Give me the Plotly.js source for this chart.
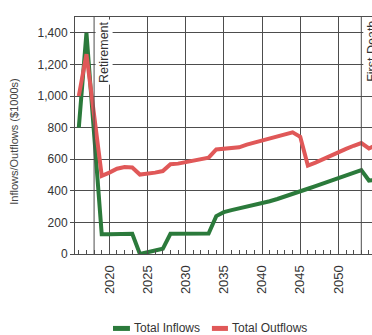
<!DOCTYPE html>
<html>
<head>
<meta charset="utf-8">
<script src="https://cdn.plot.ly/plotly-3.0.1.min.js"></script>
<style>
html,body{margin:0;padding:0;background:#fff;overflow:hidden;}
#chart{width:372px;height:335px;}
</style>
</head>
<body>
<div id="chart"></div>
<script>
// ---- data ----
const years = [2016,2017,2018,2019,2020,2021,2022,2023,2024,2025,2026,2027,2028,2029,2030,2031,2032,2033,2034,2035,2036,2037,2038,2039,2040,2041,2042,2043,2044,2045,2046,2047,2048,2049,2050,2051,2052,2053,2054,2055];
const totalInflows = [800,1400,760,125,125,125,128,128,0,10,20,33,128,128,128,128,128,130,240,265,278,288,298,310,322,334,348,363,380,398,413,430,447,463,480,497,514,531,465,470];
const totalOutflows = [1000,1265,880,495,515,540,550,548,503,508,515,525,568,572,580,590,600,610,662,668,670,675,692,705,718,730,745,758,770,742,560,578,600,622,648,665,685,702,668,690];
const seriesNames = ["Total Inflows","Total Outflows"];
const yTicks = [0,200,400,600,800,1000,1200,1400];
const xTicks = [2020,2025,2030,2035,2040,2045,2050,2055];
const events = [{year:2018,label:"Retirement"},{year:2053,label:"First Death"}];

const gridCol = "#4d4d4d";
const fontFam = "Liberation Sans, Arial, sans-serif";
const colors = ["#2b7a3b","#e05858"];

const traces = [
  {x:years, y:totalInflows, name:seriesNames[0], type:"scatter", mode:"lines",
   line:{color:colors[0], width:4}, showlegend:false},
  {x:years, y:totalOutflows, name:seriesNames[1], type:"scatter", mode:"lines",
   line:{color:colors[1], width:4}, showlegend:false}
];

const shapes = events.map(e => ({
  type:"line", xref:"x", yref:"paper", x0:e.year, x1:e.year, y0:0, y1:1,
  line:{color:gridCol, width:1}
}));
const annotations = events.map(e => ({
  xref:"x", yref:"paper", x:e.year, y:1, xanchor:"left", yanchor:"top",
  xshift:1, yshift:-2,
  text:e.label, textangle:-90, showarrow:false,
  bgcolor:"#ffffff",
  font:{family:fontFam, size:12.5, color:"#333"}
}));
annotations.push({
  xref:"paper", yref:"paper", x:-0.205, y:0.474, xanchor:"center", yanchor:"middle",
  text:"Inflows/Outflows ($1000s)", textangle:-90, showarrow:false,
  font:{family:fontFam, size:11, color:"#444"}
});

// custom legend (swatch + label), positions in paper units
const legendY = -0.314;
const legendItems = [
  {x0:0.128, x1:0.185, tx:0.192},
  {x0:0.461, x1:0.515, tx:0.522}
];
legendItems.forEach((it, i) => {
  shapes.push({type:"line", xref:"paper", yref:"paper", x0:it.x0, x1:it.x1, y0:legendY, y1:legendY,
               line:{color:colors[i], width:5}});
  annotations.push({xref:"paper", yref:"paper", x:it.tx, y:legendY, xanchor:"left", yanchor:"middle",
               text:seriesNames[i], showarrow:false,
               font:{family:fontFam, size:12, color:"#333"}});
});

const layout = {
  width:372, height:335,
  margin:{l:75, r:0, t:17, b:80.5, pad:0},
  paper_bgcolor:"#fff", plot_bgcolor:"#fff",
  showlegend:false,
  xaxis:{
    range:[2015.5, 2054.4], tickvals:xTicks, ticktext:xTicks.map(String),
    tickangle:-90, showgrid:true, gridcolor:gridCol, gridwidth:1,
    showline:true, linecolor:gridCol, linewidth:1, mirror:true,
    ticks:"inside", ticklen:4, tickcolor:gridCol, ticklabelstandoff:5,
    minor:{dtick:1, tick0:2016, ticks:"inside", ticklen:4, tickcolor:gridCol, showgrid:false},
    tickfont:{family:fontFam, size:13, color:"#333"}, zeroline:false, fixedrange:true,
    automargin:false
  },
  yaxis:{
    range:[0,1500], tickvals:yTicks, tickformat:",d",
    showgrid:true, gridcolor:gridCol, gridwidth:1,
    showline:true, linecolor:gridCol, linewidth:1,
    ticks:"outside", ticklen:4, tickcolor:gridCol,
    tickfont:{family:fontFam, size:12, color:"#333"}, zeroline:false, fixedrange:true,
    automargin:false
  },
  shapes:shapes,
  annotations:annotations
};

Plotly.newPlot("chart", traces, layout, {staticPlot:true, displayModeBar:false});
</script>
</body>
</html>
